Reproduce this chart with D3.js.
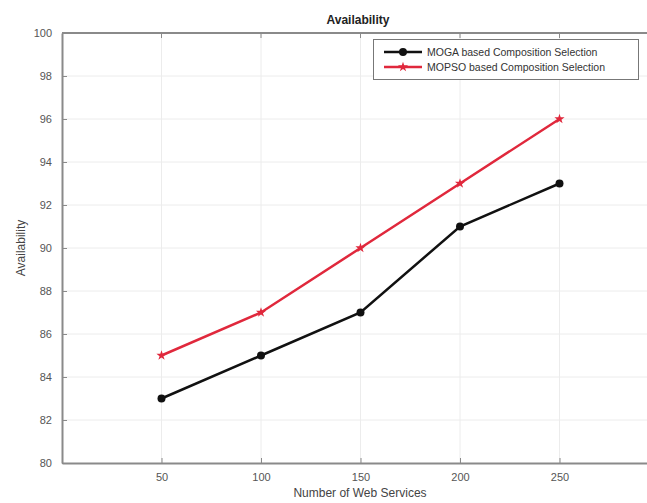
<!DOCTYPE html>
<html><head><meta charset="utf-8">
<script src="https://cdn.jsdelivr.net/npm/d3@7"></script>
<style>body{margin:0;background:#fff}svg{display:block;font-family:"Liberation Sans",Arial,sans-serif}</style>
</head><body>
<svg id="c" width="647" height="503"></svg>
<script>
const xValues = [50, 100, 150, 200, 250];
const mogaValues = [83, 85, 87, 91, 93];
const mopsoValues = [85, 87, 90, 93, 96];
const seriesNames = ["MOGA based Composition Selection", "MOPSO based Composition Selection"];
const xTicks = [50, 100, 150, 200, 250];
const yTicks = [80, 82, 84, 86, 88, 90, 92, 94, 96, 98, 100];
const titleText = "Availability";
const xLabel = "Number of Web Services";
const yLabel = "Availability";

const svg = d3.select("#c");
const L = 62, R = 659, T = 33, B = 463;
const x = d3.scaleLinear().domain([0, 300]).range([L, R]);
const y = d3.scaleLinear().domain([80, 100]).range([B, T]);

// grid
svg.append("g").selectAll("line").data(yTicks.slice(1, -1)).join("line")
  .attr("x1", L).attr("x2", R).attr("y1", d => y(d)).attr("y2", d => y(d))
  .attr("stroke", "#ececec").attr("stroke-width", 1);
svg.append("g").selectAll("line").data(xTicks).join("line")
  .attr("y1", T).attr("y2", B).attr("x1", d => x(d)).attr("x2", d => x(d))
  .attr("stroke", "#ececec").attr("stroke-width", 1);

// axes
const ya = svg.append("g").attr("transform", `translate(${L},0)`)
  .call(d3.axisLeft(y).tickValues(yTicks).tickSize(-5).tickPadding(10).tickSizeOuter(0));
const xa = svg.append("g").attr("transform", `translate(0,${B})`)
  .call(d3.axisBottom(x).tickValues(xTicks).tickSize(-5).tickPadding(10).tickSizeOuter(0));
[ya, xa].forEach(a => {
  a.select(".domain").attr("stroke", "#8a8a8a").attr("stroke-width", 2);
  a.selectAll(".tick line").attr("stroke", "#8a8a8a").attr("stroke-width", 1);
  a.selectAll(".tick text").attr("fill", "#555").attr("font-size", 11);
});
// top border
svg.append("line").attr("x1", L).attr("x2", R).attr("y1", T).attr("y2", T)
  .attr("stroke", "#8a8a8a").attr("stroke-width", 2);
svg.append("g").selectAll("line").data(xTicks).join("line")
  .attr("x1", d => x(d)).attr("x2", d => x(d)).attr("y1", T).attr("y2", T + 5)
  .attr("stroke", "#8a8a8a");

// title and labels
svg.append("text").attr("x", 358).attr("y", 24).attr("text-anchor", "middle")
  .attr("font-size", 12).attr("font-weight", "bold").attr("fill", "#222").text(titleText);
svg.append("text").attr("x", 360).attr("y", 497).attr("text-anchor", "middle")
  .attr("font-size", 12).attr("fill", "#444").text(xLabel);
svg.append("text").attr("transform", `translate(25,${(T + B) / 2}) rotate(-90)`)
  .attr("text-anchor", "middle").attr("font-size", 12).attr("fill", "#444").text(yLabel);

// lines
const line = d3.line().x((d, i) => x(xValues[i])).y(d => y(d));
const series = [
  {name: seriesNames[0], values: mogaValues, color: "#111", marker: "circle"},
  {name: seriesNames[1], values: mopsoValues, color: "#e0283c", marker: "star"}
];
const symSize = s => s.marker === "circle" ? 50 : 32;
series.forEach(s => {
  svg.append("path").datum(s.values).attr("d", line).attr("fill", "none")
    .attr("stroke", s.color).attr("stroke-width", 2.5);
  const sym = s.marker === "circle" ? d3.symbolCircle : d3.symbolStar;
  svg.append("g").selectAll("path").data(s.values).join("path")
    .attr("transform", (d, i) => `translate(${x(xValues[i])},${y(d)})`)
    .attr("d", d3.symbol(sym, symSize(s)))
    .attr("fill", s.color);
});

// legend
const lg = svg.append("g");
lg.append("rect").attr("x", 373.5).attr("y", 39.5).attr("width", 265).attr("height", 40)
  .attr("fill", "#fff").attr("stroke", "#777").attr("stroke-width", 1);
series.forEach((s, i) => {
  const yy = 52 + i * 15;
  lg.append("line").attr("x1", 384).attr("x2", 422).attr("y1", yy).attr("y2", yy)
    .attr("stroke", s.color).attr("stroke-width", 2.5);
  const sym = s.marker === "circle" ? d3.symbolCircle : d3.symbolStar;
  lg.append("path").attr("transform", `translate(403,${yy})`)
    .attr("d", d3.symbol(sym, symSize(s))).attr("fill", s.color);
  lg.append("text").attr("x", 427).attr("y", yy + 4).attr("font-size", 10.5)
    .attr("fill", "#333").text(s.name);
});
</script>
</body></html>
